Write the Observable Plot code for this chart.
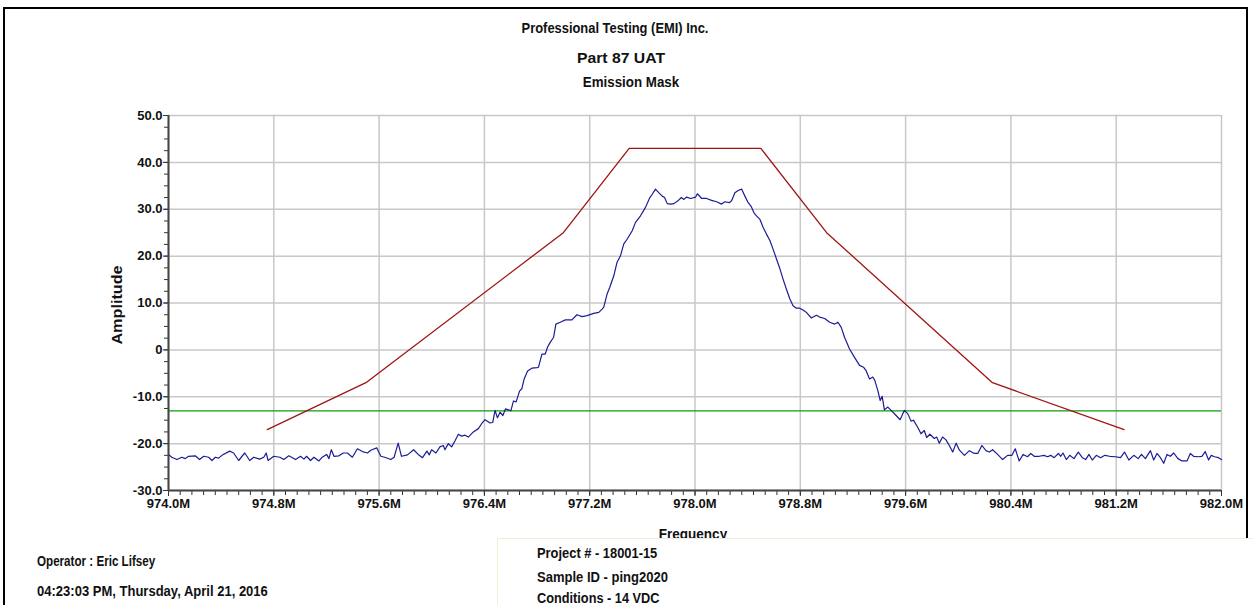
<!DOCTYPE html>
<html>
<head>
<meta charset="utf-8">
<script src="https://cdn.jsdelivr.net/npm/d3@7"></script>
<script src="https://cdn.jsdelivr.net/npm/@observablehq/plot@0.6"></script>
<style>
  html, body { margin: 0; padding: 0; background: #fff; }
  #wrap { position: relative; width: 1253px; height: 605px; overflow: hidden; background: #fff;
          font-family: "Liberation Sans Narrow", "Arial Narrow", "Liberation Sans", Arial, sans-serif; font-weight: bold; color: #111; }
  #frame { position: absolute; left: 3px; top: 7px; width: 1245px; height: 620px; border: 2px solid #000; box-sizing: border-box; }
  .t { position: absolute; white-space: nowrap; transform-origin: center center; }
  .l { position: absolute; white-space: nowrap; transform-origin: left center; }
  #chart { position: absolute; left: 0; top: 0; }
  #box { position: absolute; left: 497px; top: 538px; width: 900px; height: 80px; background: #fff; border: 1px solid #f3ecd8; }
</style>
</head>
<body>
<div id="wrap">
  <div id="frame"></div>
  <div id="chart"></div>
  <div class="t" style="left:615px;top:27px;font-size:15px;transform:translate(-50%,-50%) scaleX(0.86);">Professional Testing (EMI) Inc.</div>
  <div class="t" style="left:621px;top:57px;font-size:15px;transform:translate(-50%,-50%) scaleX(1.05);">Part 87 UAT</div>
  <div class="t" style="left:631px;top:81px;font-size:15px;transform:translate(-50%,-50%) scaleX(0.89);">Emission Mask</div>
  <div class="t" style="left:693px;top:533px;font-size:15px;transform:translate(-50%,-50%) scaleX(0.9);">Frequency</div>
  <div class="t" style="left:116px;top:305px;font-size:15px;transform:translate(-50%,-50%) rotate(-90deg) scaleX(1.08);">Amplitude</div>
  <div class="l" style="left:37px;top:561px;font-size:14px;transform:translate(0,-50%) scaleX(0.83);">Operator : Eric Lifsey</div>
  <div class="l" style="left:37px;top:591px;font-size:14px;transform:translate(0,-50%) scaleX(0.93);">04:23:03 PM, Thursday, April 21, 2016</div>
  <div id="box"></div>
  <div class="l" style="left:537px;top:553px;font-size:14px;transform:translate(0,-50%) scaleX(0.92);">Project # - 18001-15</div>
  <div class="l" style="left:537px;top:577px;font-size:14px;transform:translate(0,-50%) scaleX(0.93);">Sample ID - ping2020</div>
  <div class="l" style="left:537px;top:598px;font-size:14px;transform:translate(0,-50%) scaleX(0.91);">Conditions - 14 VDC</div>
</div>
<script>
// ---- data ----
const xTicks = [974.0, 974.8, 975.6, 976.4, 977.2, 978.0, 978.8, 979.6, 980.4, 981.2, 982.0];
const xTickLabels = ["974.0M","974.8M","975.6M","976.4M","977.2M","978.0M","978.8M","979.6M","980.4M","981.2M","982.0M"];
const yTicks = [-30, -20, -10, 0, 10, 20, 30, 40, 50];
const yTickLabels = ["-30.0","-20.0","-10.0","0","10.0","20.0","30.0","40.0","50.0"];

const maskFreq = [974.75, 975.5, 977.0, 977.5, 978.5, 979.0, 980.26, 981.26];
const maskAmp  = [-17, -7, 25, 43, 43, 25, -7, -17];
const limitAmp = -13;

const traceFreq = [
974.000,974.025,974.063,974.102,974.127,974.152,974.203,974.236,974.267,974.305,974.330,974.356,974.381,974.406,974.465,974.495,974.533,974.579,974.617,974.648,974.693,974.724,974.742,974.757,974.800,974.846,974.876,974.914,974.965,975.003,975.029,975.049,975.079,975.105,975.143,975.168,975.201,975.219,975.237,975.257,975.295,975.328,975.359,975.397,975.435,975.473,975.511,975.537,975.582,975.613,975.643,975.689,975.714,975.745,975.770,975.816,975.862,975.897,975.930,975.963,975.981,975.999,976.032,
976.062,976.088,976.100,976.126,976.151,976.177,976.202,976.227,976.253,976.278,976.316,976.354,976.380,976.405,976.443,976.463,976.481,976.499,976.519,976.540,976.560,976.583,976.601,976.621,976.641,976.667,976.684,976.702,976.728,976.761,976.799,976.811,976.837,976.862,976.880,976.900,976.926,976.943,976.977,977.015,977.065,977.103,977.142,977.180,977.230,977.269,977.294,977.307,977.332,977.352,977.383,977.408,977.434,977.459,977.484,977.523,977.548,977.586,977.624,977.657,977.675,977.700,977.726,977.751,977.769,977.789,977.815,977.840,977.870,977.896,977.916,977.937,977.967,978.005,
978.018,978.051,978.088,978.126,978.164,978.202,978.227,978.260,978.278,978.303,978.328,978.354,978.379,978.404,978.429,978.447,978.467,978.492,978.518,978.543,978.568,978.593,978.619,978.644,978.669,978.694,978.720,978.745,978.770,978.795,978.821,978.846,978.884,978.922,978.947,978.985,979.023,979.061,979.086,979.111,979.136,979.174,979.212,979.250,979.280,979.301,979.326,979.351,979.366,979.389,979.407,979.422,979.439,979.465,979.490,979.528,979.558,979.591,979.616,979.641,979.659,979.692,979.717,979.742,979.760,979.785,979.818,979.836,979.856,979.881,979.907,979.932,
979.958,979.984,980.009,980.047,980.085,980.122,980.148,980.180,980.211,980.236,980.261,980.299,980.337,980.375,980.408,980.433,980.463,980.493,980.526,980.551,980.577,980.615,980.652,980.678,980.703,980.728,980.761,980.779,980.796,980.821,980.847,980.879,980.912,980.943,980.968,980.993,981.018,981.049,981.081,981.114,981.150,981.195,981.233,981.263,981.296,981.334,981.367,981.392,981.422,981.460,981.485,981.510,981.536,981.561,981.586,981.611,981.637,981.669,981.700,981.738,981.763,981.788,981.826,981.851,981.876,981.902,981.922,981.947,981.977,982.000
];
const traceAmp = [
-22.3,-22.9,-23.4,-22.9,-23.2,-22.7,-22.6,-23.4,-22.7,-22.9,-23.6,-22.9,-23.1,-22.5,-21.6,-22.0,-23.6,-22.0,-23.6,-22.9,-23.3,-22.9,-22.0,-23.6,-22.7,-22.9,-23.4,-22.6,-23.4,-22.7,-23.3,-22.7,-23.6,-22.9,-23.7,-22.9,-22.3,-23.2,-21.3,-22.7,-22.6,-22.0,-22.0,-22.9,-21.1,-21.7,-22.0,-21.4,-20.9,-22.7,-22.9,-23.4,-22.9,-19.9,-22.7,-22.4,-21.3,-22.3,-23.0,-21.6,-22.4,-21.3,-22.0,
-20.7,-20.4,-21.3,-20.0,-20.7,-19.4,-18.0,-18.4,-18.2,-18.6,-17.5,-16.8,-15.7,-14.9,-15.6,-15.5,-12.9,-14.5,-13.3,-14.0,-12.6,-12.8,-13.0,-10.9,-11.1,-8.8,-8.3,-6.2,-4.5,-3.9,-3.8,-3.7,-0.9,-0.9,0.6,1.6,2.7,5.5,5.9,6.4,6.4,7.5,7.1,7.3,7.8,8.0,8.7,9.1,11.9,13.3,15.8,18.7,20.1,22.6,23.6,25.4,27.2,28.6,30.4,32.5,33.2,34.3,33.5,32.8,32.5,31.2,31.1,31.2,31.8,32.5,32.1,32.6,32.3,32.6,
33.3,32.3,32.3,31.9,31.6,31.1,31.6,31.4,31.8,33.5,34.0,34.3,32.8,31.4,30.5,29.3,28.6,27.9,26.1,24.7,23.4,21.5,19.4,17.4,15.1,13.0,10.9,9.4,8.9,8.9,8.5,8.0,6.8,7.4,7.0,6.7,5.9,5.5,5.9,4.8,2.7,0.2,-1.6,-3.3,-3.7,-4.5,-6.2,-5.8,-6.5,-8.7,-10.8,-9.9,-12.8,-12.2,-12.9,-14.0,-14.9,-12.9,-13.6,-15.2,-15.0,-16.5,-17.9,-17.2,-18.7,-18.0,-18.9,-18.6,-19.9,-18.6,-19.2,-20.4,
-21.8,-19.9,-21.4,-22.5,-21.5,-22.1,-22.1,-20.4,-21.5,-21.8,-21.3,-22.3,-23.4,-22.5,-22.5,-21.1,-23.7,-22.3,-22.8,-22.1,-22.7,-22.7,-22.5,-22.8,-22.5,-23.0,-22.1,-22.7,-22.0,-23.4,-22.5,-23.2,-21.8,-23.0,-23.4,-22.3,-23.5,-22.5,-23.0,-22.5,-22.7,-22.8,-23.0,-21.8,-23.5,-22.5,-23.2,-22.3,-23.2,-21.5,-23.5,-22.1,-23.0,-24.2,-22.3,-22.7,-22.0,-23.2,-23.7,-23.7,-22.1,-22.7,-22.8,-22.7,-21.7,-23.5,-22.5,-22.8,-23.0,-23.4
];

// ---- build tables ----
const trace = traceFreq.map((f, i) => ({f, a: traceAmp[i]}));
const mask = maskFreq.map((f, i) => ({f, a: maskAmp[i]}));
const xMinor = d3.range(0, 90).map(i => 974 + i * 0.8 / 9).filter(v => v <= 982.0001);
const yMinor = d3.range(-30, 50.001, 2.5);

const font = '"Liberation Sans Narrow", "Arial Narrow", "Liberation Sans", Arial, sans-serif';
const chart = Plot.plot({
  width: 1253,
  height: 605,
  marginLeft: 168,
  marginRight: 32,
  marginTop: 115,
  marginBottom: 115,
  style: {fontFamily: font, fontSize: "13px", fontWeight: "bold", color: "#111", background: "transparent"},
  x: {domain: [974, 982], label: null},
  y: {domain: [-30, 50], label: null},
  marks: [
    Plot.gridX(xTicks, {stroke: "#c8c8c8", strokeOpacity: 1, strokeWidth: 1.5}),
    Plot.gridY(yTicks, {stroke: "#c8c8c8", strokeOpacity: 1, strokeWidth: 1.5}),
    Plot.axisX(xMinor, {tickSize: 5, tickFormat: () => "", stroke: "#333", label: null}),
    Plot.axisY(yMinor, {tickSize: 4, tickFormat: () => "", stroke: "#333", label: null}),
    Plot.axisX(xTicks, {tickSize: 6, tickPadding: 2, tickFormat: (d, i) => xTickLabels[i], stroke: "#333", label: null}),
    Plot.axisY(yTicks, {tickSize: 5, tickPadding: 1, tickFormat: (d, i) => yTickLabels[i], stroke: "#333", label: null}),
    Plot.ruleY([limitAmp], {stroke: "#119911", strokeWidth: 1.3}),
    Plot.line(mask, {x: "f", y: "a", stroke: "#a01414", strokeWidth: 1.3}),
    Plot.line(trace, {x: "f", y: "a", stroke: "#1c1c96", strokeWidth: 1.2}),
    Plot.ruleX([974], {stroke: "#444", strokeWidth: 2}),
    Plot.ruleY([-30], {stroke: "#444", strokeWidth: 2})
  ]
});
document.getElementById("chart").appendChild(chart);
</script>
</body>
</html>
